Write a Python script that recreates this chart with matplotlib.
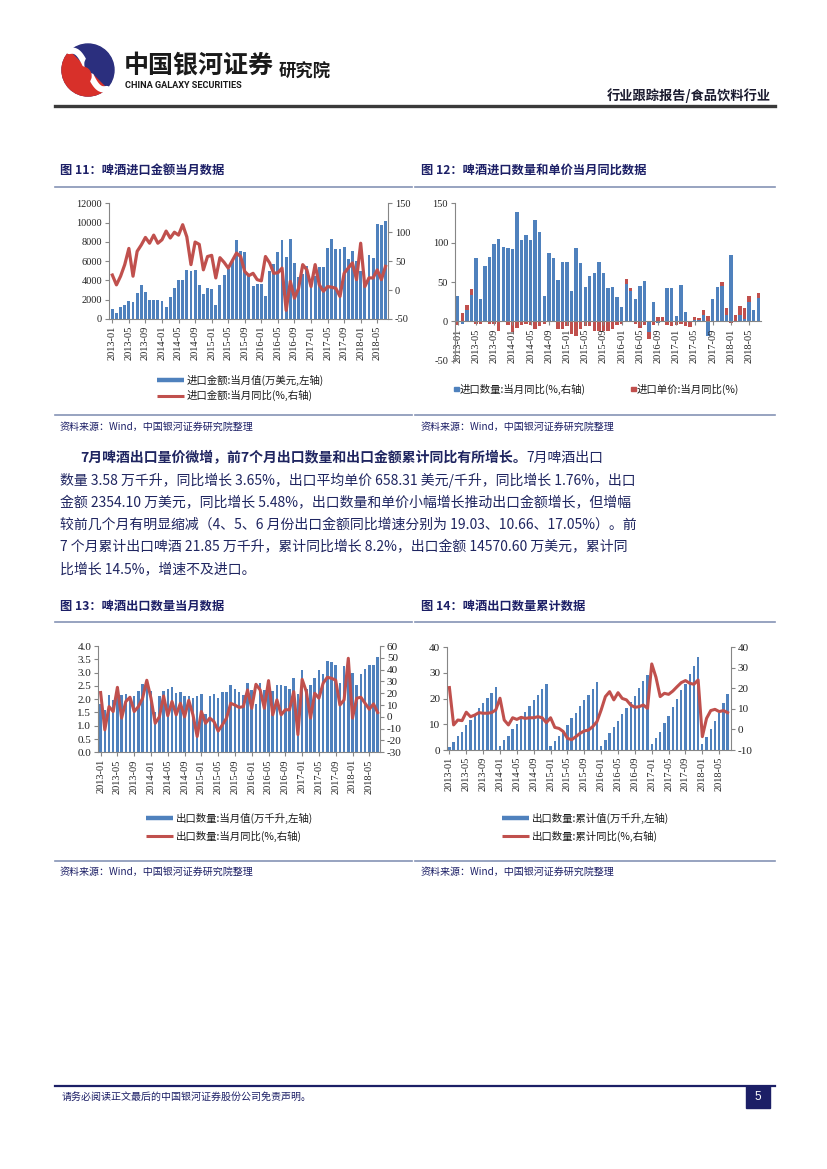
import matplotlib
matplotlib.use('Agg')
import matplotlib.pyplot as plt
import numpy as np
from matplotlib.patches import Rectangle, Wedge, Circle

W, H = 827, 1169
CJK = ['Noto Sans CJK SC', 'DejaVu Sans']
SERIF = ['Liberation Serif', 'Noto Sans CJK SC']
plt.rcParams['font.family'] = SERIF
plt.rcParams['axes.unicode_minus'] = False

BLUE = '#4F81BD'
RED = '#C0504D'
NAVY = '#1c1f66'
SP = '#868686'

months = [f"{y}-{m:02d}" for y in range(2013, 2019) for m in range(1, 13)][:67]

# Fig 11: import value (万美元) and YoY (%)
imp_val = [1000, 600, 1200, 1500, 1900, 1800, 2700, 3500, 2800, 2000,
           2000, 2000, 1900, 1200, 2300, 3200, 4000, 4000, 5100, 5000,
           5100, 3500, 2600, 3200, 3100, 1500, 3500, 4600, 5200, 6000,
           8200, 7100, 6900, 4500, 3400, 3600, 3600, 2400, 5000, 5700,
           7000, 8200, 6400, 8300, 5800, 4400, 4700, 5500, 3500, 4500,
           5400, 5400, 7400, 8300, 7300, 7300, 7500, 6200, 7100, 6000,
           5000, 3800, 6600, 6300, 9900, 9700, 10200]
imp_yoy = [26, 9, 24, 44, 72, 24, 67, 78, 91, 81,
           95, 81, 87, 102, 90, 100, 95, 113, 92, 44,
           83, 79, 35, 58, 60, 21, 56, 48, 38, 51,
           64, 58, 32, 25, 29, 18, 16, 58, 47, 29,
           30, 38, -35, 15, -14, 3, 44, 35, 6, 44,
           9, -2, 6, 5, 3, -11, 29, 38, 47, 18,
           81, 6, 21, 21, 35, 18, 41]

# Fig 12: import quantity YoY and unit price YoY (%)
qty_yoy = [32, -3, 15, 34, 80, 28, 70, 82, 98, 105,
           95, 93, 92, 139, 104, 110, 103, 129, 113, 32,
           87, 80, 52, 75, 75, 38, 93, 74, 44, 57,
           62, 75, 62, 42, 44, 31, 18, 48, 38, 29,
           45, 51, -14, 25, -2, 0, 42, 42, 7, 46,
           12, 0, 2, 2, 8, -18, 29, 44, 45, 8,
           84, 0, 8, 3, 25, 15, 30]
price_yoy = [-5, 11, 6, 7, -4, -4, 0, -3, -3, -12,
             0, -5, -13, -8, -5, -3, -5, -10, -6, -3,
             -1, 0, -10, -10, -6, -16, -18, -10, -6, -6,
             -12, -12, -12, -12, -10, -5, -3, 6, 4, -3,
             -8, -5, -8, -5, 6, 6, -5, -6, -5, -4,
             -6, -7, 4, 2, 6, 7, 0, 0, 5, 9,
             -2, 8, 12, 14, 7, 0, 6]

# Fig 13: export volume monthly (万千升) and YoY (%)
exp_vol = [1.8, 1.6, 2.17, 1.96, 2.46, 2.17, 2.2, 2.1, 2.1, 2.3,
           2.56, 2.65, 2.3, 1.52, 2.1, 2.3, 2.4, 2.46, 2.24, 2.27,
           2.1, 2.1, 2.03, 2.13, 2.19, 1.44, 2.1, 2.19, 2.06, 2.27,
           2.27, 2.54, 2.38, 2.27, 2.15, 2.61, 2.36, 1.81, 2.59, 2.34,
           2.3, 2.3, 2.55, 2.55, 2.5, 2.4, 2.78, 2.2, 3.09, 2.4,
           2.55, 2.81, 3.11, 2.96, 3.44, 3.4, 3.3, 2.59, 3.24, 3.2,
           3.0, 2.52, 2.96, 3.14, 3.29, 3.3, 3.58]
exp_yoy = [20.6, -11, 8.7, 4.5, 25, -1, 13, 16.6, 4.5, 8.7,
           15.8, 31, 15.8, -5.4, 0, 17.7, 1, 13, 1.7, 11.5,
           0, 14, 1.7, -16.6, 4.5, -5.4, -1, -4, -12, -6.8,
           -1, 11.5, 10, 8, 8.7, 22.8, 7.3, 27.6, 22.8, 7.3,
           30.7, 1.7, 14.4, 1.7, 6, 6, 21.4, -15, 31.8, 21.4,
           -1, 20, 15.8, 28.5, 33.5, 32.7, 31, 10, 14.4, 49.6,
           -1, 15.8, 16.6, 11.5, 6.5, 11, 3.7]

# Fig 14: export volume cumulative (万千升) and cumulative YoY (%)
cum_vol = [1.3, 3.0, 5.5, 7.1, 9.7, 11.7, 14.0, 16.2, 18.2, 20.1, 22.3, 24.7,
           1.7, 3.9, 5.5, 8.2, 10.1, 12.0, 14.7, 17.3, 19.5, 21.3, 23.6, 25.6,
           1.5, 3.5, 5.5, 7.7, 9.9, 12.3, 14.5, 17.0, 19.3, 21.5, 23.8, 26.4,
           1.7, 4.0, 6.5, 8.8, 11.3, 13.9, 16.5, 18.8, 21.0, 24.0, 27.0, 29.2,
           2.3, 4.8, 7.1, 10.4, 13.4, 16.6, 19.7, 23.4, 25.6, 29.6, 32.7, 36.4,
           2.5, 5.2, 8.0, 11.3, 14.5, 18.2, 21.85]
cum_yoy = [20.4, 2.2, 4.6, 4.3, 8.4, 6.2, 7.0, 8.2, 7.9, 7.9, 8.2, 9.5,
           15.2, 4.6, 2.2, 5.7, 4.9, 5.9, 5.4, 5.7, 5.7, 6.2, 5.7, 3.3,
           5.7, 1.0, 0.5, -1.0, -4.3, -5.0, -3.5, -1.9, -0.7, -0.3, 1.4, 3.8,
           9.5, 16.0, 18.4, 14.4, 17.9, 15.1, 14.4, 11.9, 10.8, 11.1, 11.9, 10.3,
           31.9, 25.4, 16.0, 17.6, 17.1, 18.7, 20.8, 22.8, 23.8, 22.5, 22.0, 24.1,
           -3.5, 5.4, 9.2, 9.8, 8.7, 9.2, 8.2]

fig = plt.figure(figsize=(W / 100, H / 100), dpi=100)
fig.patch.set_facecolor('white')
ov = fig.add_axes([0, 0, 1, 1])
ov.set_xlim(0, W)
ov.set_ylim(H, 0)
ov.axis('off')


def pax(x0, y0, x1, y1):
    return fig.add_axes([x0 / W, 1 - y1 / H, (x1 - x0) / W, (y1 - y0) / H])


def style_main(ax, ylab=7.5):
    ax.spines['top'].set_visible(False)
    ax.spines['right'].set_visible(False)
    for s in ['left', 'bottom']:
        ax.spines[s].set_color(SP)
        ax.spines[s].set_linewidth(0.8)
    ax.tick_params(axis='both', direction='out', length=3, width=0.8, color=SP,
                   labelsize=7.5, pad=2, labelcolor='#222222')
    ax.tick_params(axis='y', labelsize=ylab)
    ax.tick_params(axis='x', labelrotation=90)
    ax.patch.set_alpha(0)


def style_twin(ax2, ylab=7.5):
    for s in ['top', 'left', 'bottom']:
        ax2.spines[s].set_visible(False)
    ax2.spines['right'].set_color(SP)
    ax2.spines['right'].set_linewidth(0.8)
    ax2.tick_params(axis='y', direction='out', length=3, width=0.8, color=SP,
                    labelsize=ylab, pad=2, labelcolor='#222222')


def xcats(ax, n):
    xx = np.arange(n)
    ax.set_xticks(xx[::4])
    ax.set_xticklabels(months[::4])


x = np.arange(len(months))

# ---------------- Figure 11 ----------------
ax = pax(109, 203.3, 388, 319)
ax.bar(x, imp_val, width=0.7, color=BLUE)
ax.set_ylim(0, 12000)
ax.set_yticks(range(0, 12001, 2000))
ax.set_xlim(-0.8, 66.6)
xcats(ax, len(months))
style_main(ax)
ax2 = ax.twinx()
ax2.plot(x, imp_yoy, color=RED, lw=2.3, solid_joinstyle='round')
ax2.set_ylim(-50, 150)
ax2.set_yticks(range(-50, 151, 50))
ax2.set_xlim(-0.8, 66.6)
style_twin(ax2)

# ---------------- Figure 12 ----------------
ax = pax(455, 203.3, 761, 360.7)
ax.spines['bottom'].set_position(('data', 0))
qv = np.array(qty_yoy, dtype=float)
pv = np.array(price_yoy, dtype=float)
ax.bar(x, qv, width=0.75, color=BLUE)
red_bottom = np.where(pv >= 0, np.maximum(qv, 0), np.minimum(qv, 0))
ax.bar(x, pv, bottom=red_bottom, width=0.75, color=RED)
ax.set_ylim(-50, 150)
ax.set_yticks(range(-50, 151, 50))
ax.set_xlim(-0.6, 66.6)
xcats(ax, len(months))
style_main(ax)

# ---------------- Figure 13 ----------------
ax = pax(98.3, 646, 380, 752.3)
ax.bar(x, exp_vol, width=0.6, color=BLUE)
ax.set_ylim(0, 4)
ax.set_yticks(np.arange(0, 4.01, 0.5))
ax.set_yticklabels([f"{v:.1f}" for v in np.arange(0, 4.01, 0.5)])
ax.set_xlim(-0.55, 66.55)
xcats(ax, len(months))
style_main(ax, ylab=8)
ax2 = ax.twinx()
ax2.plot(x, exp_yoy, color=RED, lw=2.2, solid_joinstyle='round')
ax2.set_ylim(-30, 60)
ax2.set_yticks(range(-30, 61, 10))
ax2.set_xlim(-0.55, 66.55)
style_twin(ax2, ylab=8)

# ---------------- Figure 14 ----------------
ax = pax(447.3, 647.3, 731, 750)
ax.bar(x, cum_vol, width=0.55, color=BLUE)
ax.set_ylim(0, 40)
ax.set_yticks(range(0, 41, 10))
ax.set_xlim(-0.5, 66.8)
xcats(ax, len(months))
style_main(ax, ylab=8)
ax2 = ax.twinx()
ax2.plot(x, cum_yoy, color=RED, lw=2.2, solid_joinstyle='round')
ax2.set_ylim(-10, 40)
ax2.set_yticks(range(-10, 41, 10))
ax2.set_xlim(-0.5, 66.8)
style_twin(ax2, ylab=8)

# ---------------- Page decorations ----------------
# logo
cx, cy, r = 88, 70, 26
ov.add_patch(Circle((cx, cy), r, color='#2b2f7e', zorder=2))
ov.add_patch(Wedge((cx, cy), r, 45, 225, color='#d8302a', zorder=3))
t = np.linspace(-1, 1, 60)
ov.plot(cx + 19 * t, cy + 19 * t + 7 * np.sin(np.pi * t), color='white', lw=4.5,
        solid_capstyle='round', zorder=4)
ov.add_patch(Circle((cx + 6, cy - 6), 9, color='#2b2f7e', zorder=5))
ov.add_patch(Circle((cx - 6, cy + 6), 9, color='#d8302a', zorder=5))

ov.text(124, 66, '中国银河证券', fontsize=18, fontweight='bold', color='#1a1a1a',
        va='center', ha='left', family=CJK)
ov.text(125, 86, 'CHINA GALAXY SECURITIES', fontsize=6.6, fontweight='bold',
        color='#1a1a1a', va='center', ha='left', family=['Roboto', 'DejaVu Sans'])
ov.text(279, 72, '研究院', fontsize=12.5, fontweight='bold', color='#1a1a1a',
        va='center', ha='left', family=CJK)
ov.text(771, 96, '行业跟踪报告/食品饮料行业', fontsize=9.5, fontweight='bold',
        color='#1a1a2e', va='center', ha='right', family=CJK)
ov.plot([55, 775], [106, 106], color='#3a3a3a', lw=2.4)

# figure titles & separators
def fig_title(xt, y, s):
    ov.text(xt, y, s, fontsize=8.8, fontweight='bold', color=NAVY, va='center',
            ha='left', family=CJK)

fig_title(60, 170, '图 11：啤酒进口金额当月数据')
fig_title(421, 170, '图 12：啤酒进口数量和单价当月同比数据')
fig_title(60, 606, '图 13：啤酒出口数量当月数据')
fig_title(421, 606, '图 14：啤酒出口数量累计数据')

LC = '#8593b5'
for y in [186.5, 415, 621.5, 861]:
    ov.plot([55, 412], [y, y], color=LC, lw=1.2)
    ov.plot([415, 775], [y, y], color=LC, lw=1.2)

src = '资料来源：Wind，中国银河证券研究院整理'
for xs, ys in [(60, 427), (421, 427), (60, 872), (421, 872)]:
    ov.text(xs, ys, src, fontsize=7.2, color=NAVY, style='italic', va='center',
            ha='left', family=CJK)

# legends
LT = dict(fontsize=7.5, color='#1a1a1a', va='center', ha='left', family=CJK)
ov.plot([157, 184], [380, 380], color=BLUE, lw=3.2, solid_capstyle='butt')
ov.text(187, 380, '进口金额:当月值(万美元,左轴)', **LT)
ov.plot([157, 184], [395.5, 395.5], color=RED, lw=2.2, solid_capstyle='butt')
ov.text(187, 395.5, '进口金额:当月同比(%,右轴)', **LT)

ov.add_patch(Rectangle((454, 386.5), 4.5, 4.5, color=BLUE))
ov.text(460, 389, '进口数量:当月同比(%,右轴)', **LT)
ov.add_patch(Rectangle((631, 386.5), 4.5, 4.5, color=RED))
ov.text(637, 389, '进口单价:当月同比(%)', **LT)

ov.plot([146, 173], [818, 818], color=BLUE, lw=3.2, solid_capstyle='butt')
ov.text(176, 818, '出口数量:当月值(万千升,左轴)', **LT)
ov.plot([146, 173], [836, 836], color=RED, lw=2.2, solid_capstyle='butt')
ov.text(176, 836, '出口数量:当月同比(%,右轴)', **LT)

ov.plot([502, 529], [818, 818], color=BLUE, lw=3.2, solid_capstyle='butt')
ov.text(532, 818, '出口数量:累计值(万千升,左轴)', **LT)
ov.plot([502, 529], [836, 836], color=RED, lw=2.2, solid_capstyle='butt')
ov.text(532, 836, '出口数量:累计同比(%,右轴)', **LT)

# paragraph
PC = '#1f2560'
PF = 10.0
renderer = fig.canvas.get_renderer()
tb = ov.text(80, 458, '7月啤酒出口量价微增，前7个月出口数量和出口金额累计同比有所增长。',
             fontsize=PF, fontweight='bold', color=PC, va='center', ha='left', family=CJK)
bw = tb.get_window_extent(renderer=renderer).width
ov.text(80 + bw, 458, '7月啤酒出口', fontsize=PF, color=PC, va='center', ha='left', family=CJK)
para = [
    '数量 3.58 万千升，同比增长 3.65%，出口平均单价 658.31 美元/千升，同比增长 1.76%，出口',
    '金额 2354.10 万美元，同比增长 5.48%，出口数量和单价小幅增长推动出口金额增长，但增幅',
    '较前几个月有明显缩减（4、5、6 月份出口金额同比增速分别为 19.03、10.66、17.05%）。前',
    '7 个月累计出口啤酒 21.85 万千升，累计同比增长 8.2%，出口金额 14570.60 万美元，累计同',
    '比增长 14.5%，增速不及进口。',
]
for i, s in enumerate(para):
    ov.text(60, 480.5 + i * 22.3, s, fontsize=PF, color=PC, va='center', ha='left', family=CJK)

# footer
ov.plot([55, 775], [1086, 1086], color='#1c1f66', lw=1.6)
ov.text(62, 1097, '请务必阅读正文最后的中国银河证券股份公司免责声明。', fontsize=7.2,
        color='#1c1f66', va='center', ha='left', family=CJK)
ov.add_patch(Rectangle((746, 1086), 24, 22, color='#1c1f66'))
ov.text(758, 1097, '5', fontsize=8.5, color='white', va='center', ha='center',
        family=['Liberation Sans', 'DejaVu Sans'])

fig.savefig('out.png', dpi=100, facecolor='white')
